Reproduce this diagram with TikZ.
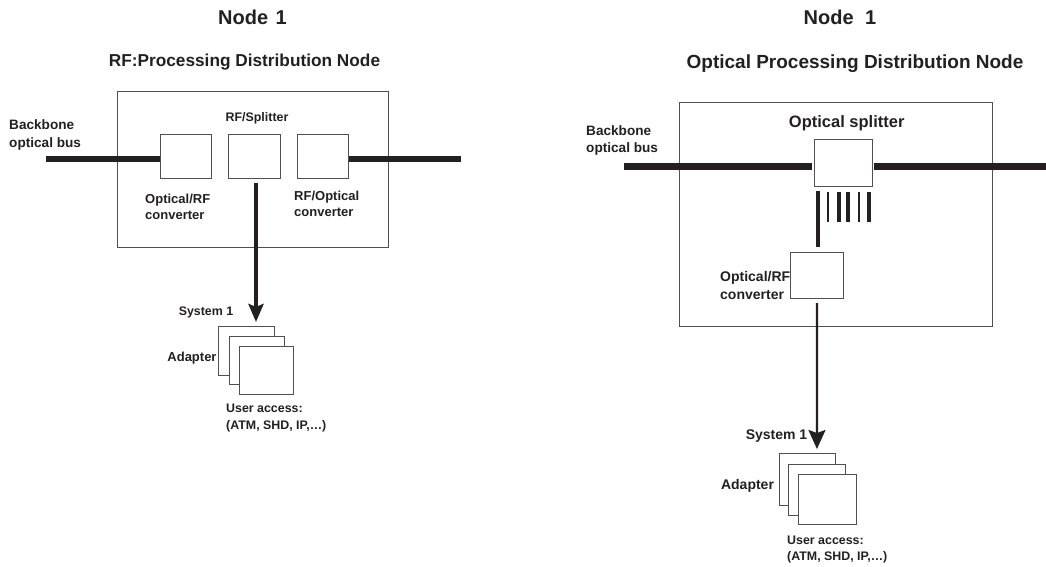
\documentclass[tikz,border=0pt]{standalone}
\usepackage{fontspec}
\setmainfont{Liberation Sans}
\usetikzlibrary{arrows.meta,calc}
\definecolor{LineClr}{rgb}{0.14,0.12,0.13}
\definecolor{BoxClr}{rgb}{0.32,0.31,0.31}

\tikzset{
  outerbox/.style={draw=BoxClr,line width=0.9pt,inner sep=0pt,outer sep=0pt},
  unitbox/.style={outerbox,fill=white},
  titletext/.style={text=LineClr,font=\bfseries\fontsize{20}{24}\selectfont,inner sep=0pt},
  subtext/.style={text=LineClr,font=\bfseries\fontsize{17.25}{20}\selectfont,inner sep=0pt},
  labeltext/.style={text=LineClr,font=\bfseries\fontsize{13}{16.5}\selectfont,inner sep=0pt,align=left},
  smalltext/.style={text=LineClr,font=\bfseries\fontsize{12.4}{16.5}\selectfont,inner sep=0pt,align=left},
  bustext/.style={text=LineClr,font=\bfseries\fontsize{13.6}{17.5}\selectfont,inner sep=0pt,align=left},
  widetext/.style={text=LineClr,font=\bfseries\fontsize{14}{18}\selectfont,inner sep=0pt,align=left},
  bigtext/.style={text=LineClr,font=\bfseries\fontsize{16.5}{20}\selectfont,inner sep=0pt},
  busline/.style={draw=LineClr,line width=6.5pt},
  tapline/.style={draw=LineClr,line width=4pt},
}

\begin{document}
\begin{tikzpicture}[x=1pt,y=-1pt]
\useasboundingbox (0,0) rectangle (1046,567);

% left node
\node[titletext] (TL) at (252.5,17) {Node\hspace{2pt} 1};
\node[subtext] (SL) at (244.5,62) {RF:Processing Distribution Node};
\node[outerbox,minimum width=270.5pt,minimum height=156pt] (FL) at (252.75,169) {};

\node[unitbox,minimum width=51pt,minimum height=44pt] (A) at (185.5,156) {};
\node[unitbox,minimum width=52.5pt,minimum height=44pt] (B) at (254.5,156) {};
\node[unitbox,minimum width=51pt,minimum height=44pt] (C) at (323,156) {};

\coordinate (P) at (46,159);
\coordinate (Q) at (461,159);
\draw[busline] (P) -- (A.west |- P);
\draw[busline] (C.east |- Q) -- (Q);

\node[unitbox,minimum width=56pt,minimum height=49pt] (D) at (246.7,350.5) {};
\node[unitbox,minimum width=54.5pt,minimum height=48pt] (E) at (257,360.7) {};
\node[unitbox,minimum width=54.5pt,minimum height=48pt] (F) at (266.2,370) {};

\draw[tapline,-{Stealth[length=18pt,width=15pt,inset=3pt]}] ($(B.south)+(1.5,5)$) -- ($(D.north)+(9.3,-4)$);

\node[bustext,anchor=west] (BL) at (9,135) {Backbone\\optical bus};
\node[smalltext] (L1) at (257,118) {RF/Splitter};
\node[labeltext,anchor=west] (L2) at (145,207) {Optical/RF\\converter};
\node[labeltext,anchor=west] (L3) at (294,204) {RF/Optical\\converter};
\node[smalltext] (L4) at (206,312) {System 1};
\node[labeltext] (L5) at (192,358.5) {Adapter};
\node[smalltext,anchor=west] (L6) at (226,418) {User access:\\(ATM, SHD, IP,\dots)};

% right node
\node[titletext] (TR) at (840,17) {Node\hspace{6pt} 1};
\node[subtext,font=\bfseries\fontsize{19}{22}\selectfont] (SR) at (855,64) {Optical Processing Distribution Node};
\node[outerbox,minimum width=313.3pt,minimum height=223.7pt] (FR) at (835.65,214.15) {};

\node[unitbox,minimum width=58.4pt,minimum height=46.7pt] (G) at (843.5,162.65) {};
\node[unitbox,minimum width=53.4pt,minimum height=46.7pt] (H) at (817,275.35) {};

\coordinate (R) at (624,166.5);
\coordinate (S) at (1046,166.5);
\draw[busline,line width=7pt] (R) -- ($(G.west |- R)+(-2.5,0)$);
\draw[busline,line width=7pt] ($(G.east |- S)+(1,0)$) -- (S);

\coordinate (U) at (818,191);
\draw[tapline] (U) -- ($(H.north)+(1,-5)$);
\foreach \x/\w in {828/2,839/4,848/4,859/2,869/4}
  \draw[draw=LineClr,line width=\w pt] (\x,191.5) -- (\x,222);

\node[unitbox,minimum width=56.7pt,minimum height=52pt] (I) at (807.35,479) {};
\node[unitbox,minimum width=57pt,minimum height=50.7pt] (J) at (817.2,489.65) {};
\node[unitbox,minimum width=58.4pt,minimum height=50pt] (K) at (827.5,499) {};

\draw[draw=LineClr,line width=2.2pt,-{Stealth[length=19pt,width=17pt,inset=3pt]}] ($(H.south)+(0,4.5)$) -- ($(I.north)+(9.6,-4)$);

\node[bustext,anchor=west] (BR) at (586,140.5) {Backbone\\optical bus};
\node[bigtext] (L7) at (846.7,123) {Optical splitter};
\node[widetext,anchor=west] (L8) at (720,285) {Optical/RF\\converter};
\node[widetext] (L9) at (776.5,436) {System 1};
\node[widetext] (L10) at (747.5,486) {Adapter};
\node[smalltext,anchor=west] (L11) at (787,549.5) {User access:\\(ATM, SHD, IP,\dots)};
\end{tikzpicture}
\end{document}
